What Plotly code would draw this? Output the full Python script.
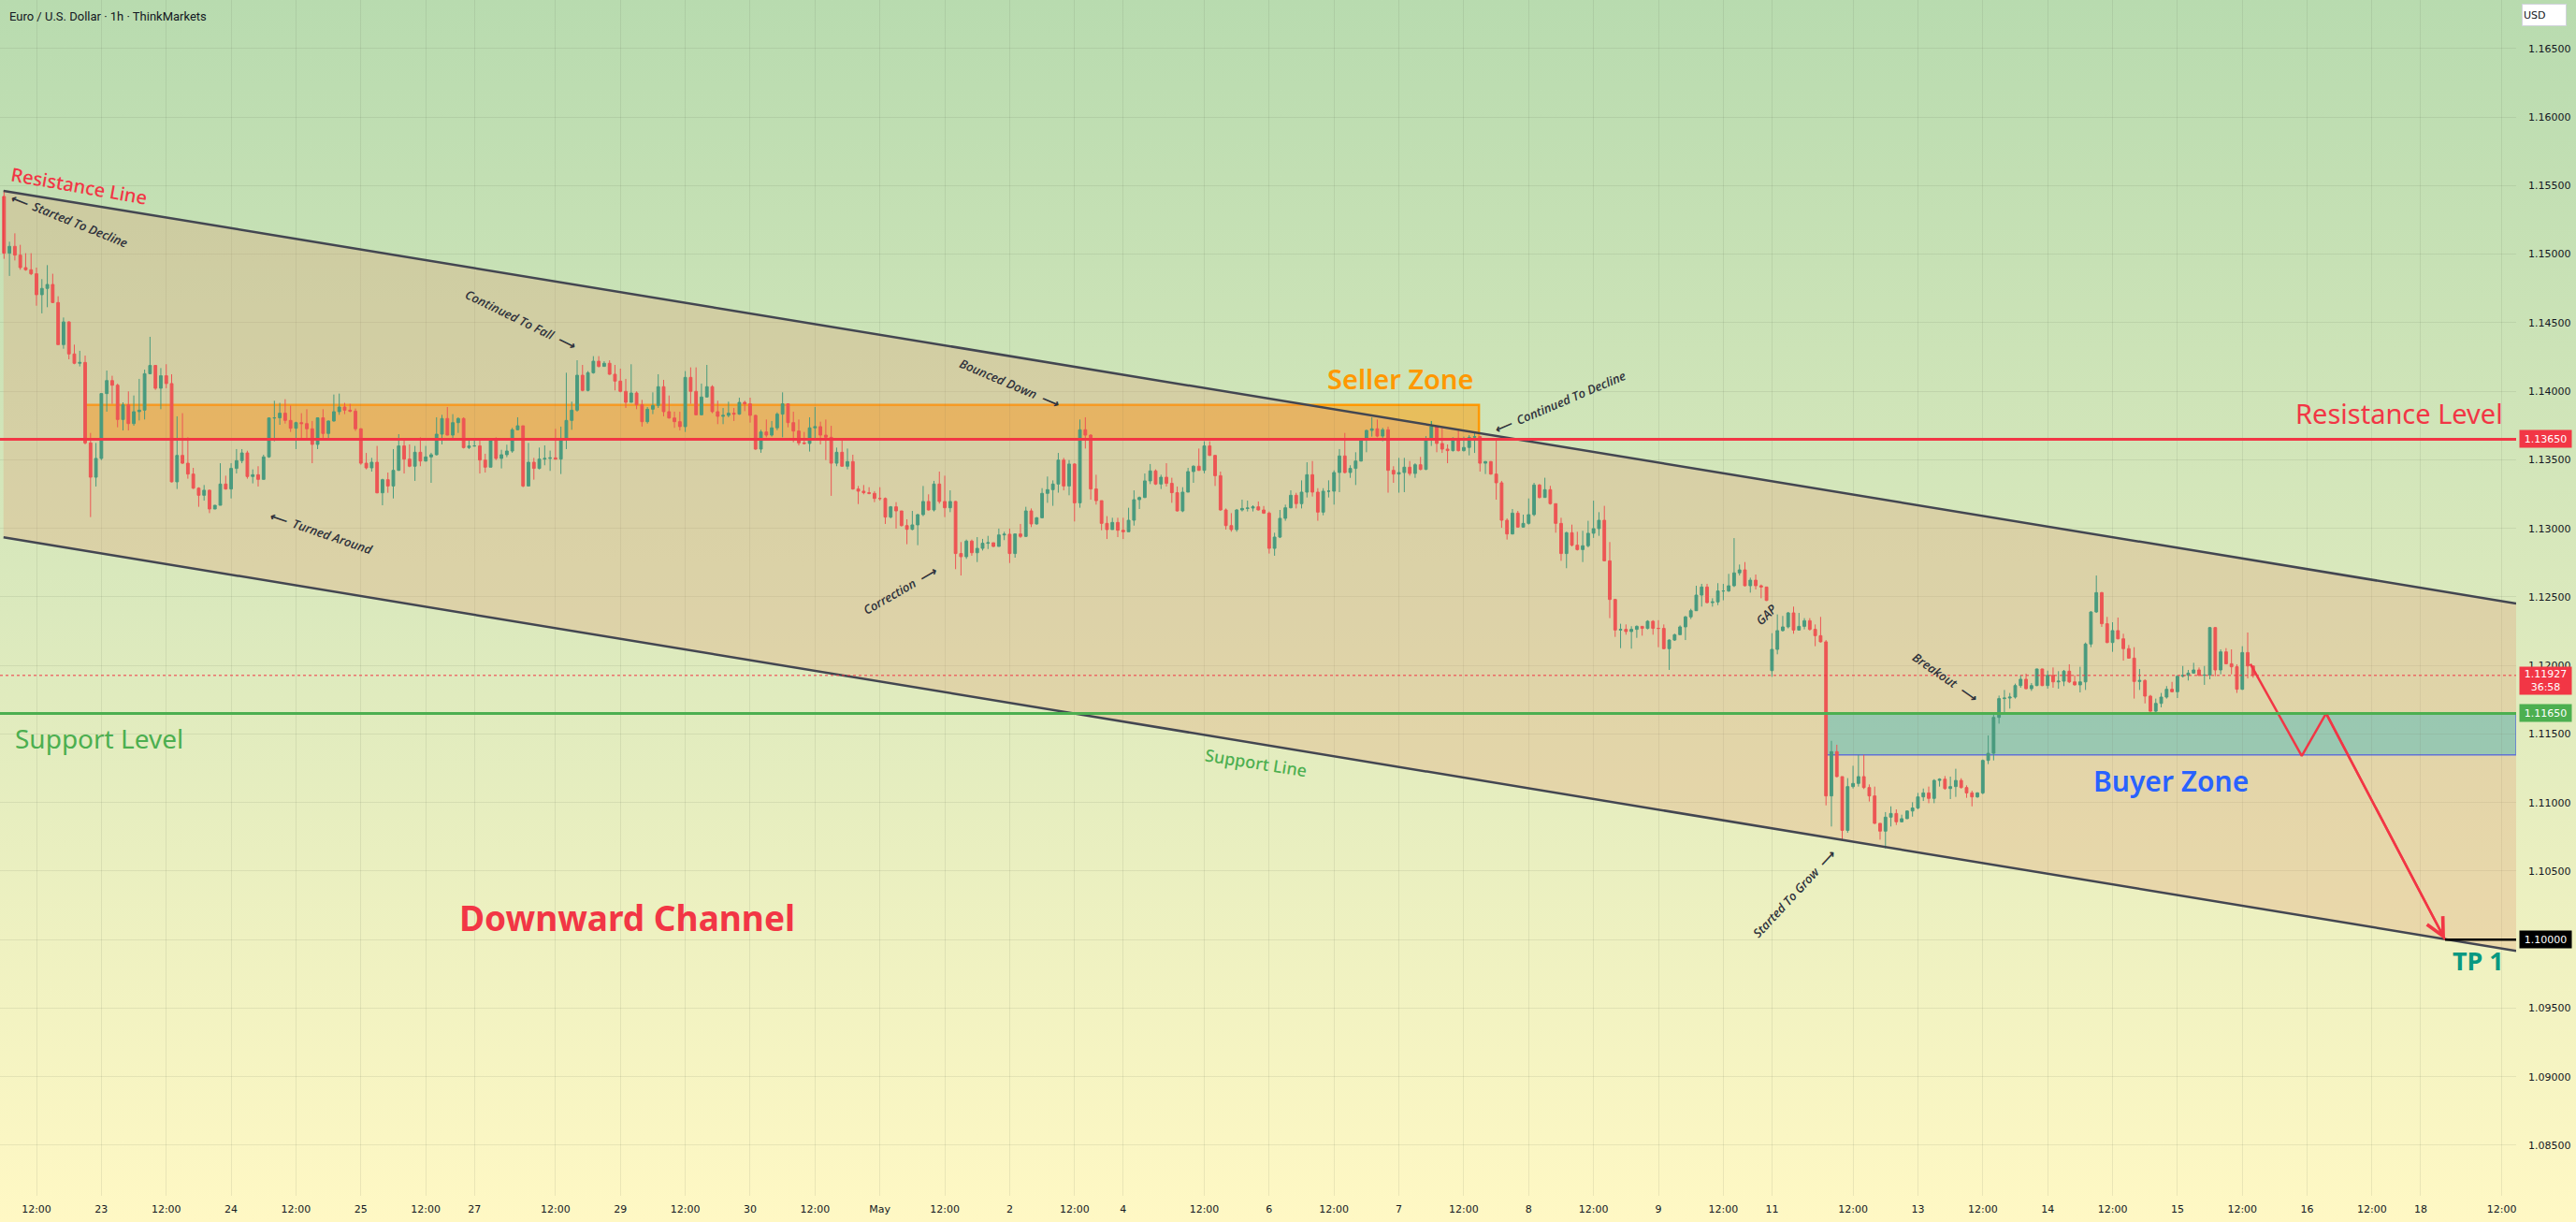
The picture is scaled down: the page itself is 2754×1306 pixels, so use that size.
import base64
import plotly.graph_objects as go

# EUR/USD 1h candles (ThinkMarkets), 22 Apr - 15 May
# bar numbers count hourly candles from 22 Apr 12:00, weekend hours are not counted
first_bar = -6
first_open = 1.15421
gap_opens = {321: 1.11962}  # Sunday 11 May open, after the weekend gap

closes = [
    1.15007, 1.15057, 1.14993, 1.14902, 1.14886, 1.14857, 1.14704, 1.14750, 1.14779, 1.14647, 1.14340, 1.14506,
    1.14272, 1.14204, 1.14210, 1.13623, 1.13373, 1.13510, 1.13983, 1.14078, 1.14044, 1.13794, 1.13901, 1.13764,
    1.13851, 1.13862, 1.14128, 1.14188, 1.14022, 1.14113, 1.14056, 1.13339, 1.13532, 1.13475, 1.13396, 1.13293,
    1.13241, 1.13278, 1.13141, 1.13168, 1.13323, 1.13287, 1.13437, 1.13494, 1.13550, 1.13378, 1.13391, 1.13357,
    1.13521, 1.13805, 1.13806, 1.13840, 1.13787, 1.13730, 1.13771, 1.13764, 1.13726, 1.13612, 1.13806, 1.13692,
    1.13783, 1.13851, 1.13885, 1.13862, 1.13855, 1.13726, 1.13475, 1.13441, 1.13482, 1.13259, 1.13355, 1.13309,
    1.13423, 1.13601, 1.13505, 1.13453, 1.13555, 1.13491, 1.13521, 1.13537, 1.13687, 1.13801, 1.13680, 1.13771,
    1.13801, 1.13589, 1.13601, 1.13601, 1.13498, 1.13446, 1.13642, 1.13510, 1.13537, 1.13564, 1.13719, 1.13748,
    1.13309, 1.13482, 1.13437, 1.13505, 1.13510, 1.13514, 1.13505, 1.13646, 1.13787, 1.13862, 1.14117, 1.14006,
    1.14135, 1.14219, 1.14181, 1.14204, 1.14124, 1.14074, 1.13999, 1.13919, 1.13987, 1.13901, 1.13778, 1.13869,
    1.13896, 1.14033, 1.13851, 1.13805, 1.13778, 1.13742, 1.14101, 1.13999, 1.13828, 1.13958, 1.14033, 1.13851,
    1.13817, 1.13824, 1.13840, 1.13833, 1.13919, 1.13908, 1.13824, 1.13578, 1.13703, 1.13680, 1.13733, 1.13833,
    1.13908, 1.13771, 1.13710, 1.13623, 1.13619, 1.13733, 1.13742, 1.13680, 1.13664, 1.13475, 1.13555, 1.13453,
    1.13487, 1.13287, 1.13271, 1.13260, 1.13255, 1.13218, 1.13218, 1.13082, 1.13157, 1.13127, 1.13020, 1.12993,
    1.13025, 1.13100, 1.13196, 1.13134, 1.13323, 1.13196, 1.13150, 1.13196, 1.12816, 1.12793, 1.12907, 1.12822,
    1.12854, 1.12891, 1.12895, 1.12868, 1.12952, 1.12957, 1.12816, 1.12959, 1.12941, 1.13127, 1.13032, 1.13077,
    1.13255, 1.13282, 1.13323, 1.13498, 1.13309, 1.13469, 1.13186, 1.13719, 1.13680, 1.13287, 1.13202, 1.13036,
    1.12991, 1.13043, 1.12986, 1.12975, 1.13059, 1.13209, 1.13225, 1.13346, 1.13419, 1.13323, 1.13373, 1.13328,
    1.13260, 1.13127, 1.13264, 1.13414, 1.13453, 1.13423, 1.13601, 1.13532, 1.13384, 1.13134, 1.13020, 1.12991,
    1.13134, 1.13145, 1.13148, 1.13157, 1.13134, 1.13111, 1.12854, 1.12936, 1.13073, 1.13150, 1.13241, 1.13180,
    1.13264, 1.13391, 1.13264, 1.13118, 1.13271, 1.13271, 1.13407, 1.13528, 1.13407, 1.13437, 1.13491, 1.13646,
    1.13714, 1.13726, 1.13673, 1.13719, 1.13423, 1.13396, 1.13407, 1.13446, 1.13400, 1.13464, 1.13430, 1.13651,
    1.13742, 1.13619, 1.13578, 1.13567, 1.13657, 1.13567, 1.13590, 1.13664, 1.13669, 1.13475, 1.13487, 1.13396,
    1.13332, 1.13059, 1.12959, 1.13111, 1.13009, 1.13036, 1.13100, 1.13316, 1.13225, 1.13282, 1.13180, 1.13036,
    1.12816, 1.12968, 1.12877, 1.12845, 1.12873, 1.12964, 1.12998, 1.13059, 1.12763, 1.12481, 1.12258, 1.12263,
    1.12247, 1.12263, 1.12285, 1.12270, 1.12322, 1.12270, 1.12270, 1.12122, 1.12185, 1.12224, 1.12281, 1.12354,
    1.12399, 1.12513, 1.12572, 1.12458, 1.12463, 1.12543, 1.12543, 1.12581, 1.12675, 1.12697, 1.12581, 1.12622,
    1.12581, 1.12572, 1.12474, 1.12117, 1.12254, 1.12281, 1.12383, 1.12258, 1.12285, 1.12326, 1.12263, 1.12217,
    1.12172, 1.11048, 1.11371, 1.11189, 1.10797, 1.11116, 1.11139, 1.11189, 1.11109, 1.11048, 1.10848, 1.10791,
    1.10893, 1.10920, 1.10859, 1.10882, 1.10938, 1.10960, 1.11041, 1.11070, 1.11030, 1.11161, 1.11170, 1.11102,
    1.11116, 1.11161, 1.11109, 1.11070, 1.11041, 1.11070, 1.11307, 1.11359, 1.11621, 1.11758, 1.11762, 1.11769,
    1.11853, 1.11899, 1.11830, 1.11853, 1.11974, 1.11853, 1.11928, 1.11880, 1.11885, 1.11958, 1.11880, 1.11858,
    1.11880, 1.12156, 1.12390, 1.12531, 1.12304, 1.12167, 1.12254, 1.12194, 1.12122, 1.12053, 1.11883, 1.11890,
    1.11776, 1.11666, 1.11723, 1.11769, 1.11826, 1.11808, 1.11921, 1.11928, 1.11944, 1.11967, 1.11928, 1.11930,
    1.12276, 1.11967, 1.12099, 1.12012, 1.11990, 1.11826, 1.12094, 1.11996, 1.11927,
]

highs = [
    1.15466, 1.15091, 1.15152, 1.15068, 1.15007, 1.15007, 1.14902, 1.14818, 1.14920, 1.14857, 1.14693, 1.14538,
    1.14510, 1.14340, 1.14295, 1.14260, 1.13696, 1.13623, 1.13985, 1.14151, 1.14113, 1.14056, 1.13919, 1.13999,
    1.13969, 1.14090, 1.14158, 1.14397, 1.14192, 1.14169, 1.14197, 1.14124, 1.13817, 1.13840, 1.13664, 1.13441,
    1.13300, 1.13316, 1.13282, 1.13170, 1.13475, 1.13384, 1.13475, 1.13578, 1.13578, 1.13566, 1.13430, 1.13453,
    1.13537, 1.13810, 1.13931, 1.13915, 1.13942, 1.13896, 1.13778, 1.13840, 1.13869, 1.13783, 1.13810, 1.13869,
    1.13787, 1.13976, 1.13983, 1.13915, 1.13908, 1.13874, 1.13730, 1.13550, 1.13514, 1.13601, 1.13362, 1.13407,
    1.13578, 1.13687, 1.13642, 1.13612, 1.13601, 1.13664, 1.13601, 1.13551, 1.13810, 1.13828, 1.13885, 1.13833,
    1.13810, 1.13810, 1.13646, 1.13651, 1.13646, 1.13544, 1.13646, 1.13664, 1.13573, 1.13610, 1.13733, 1.13810,
    1.13748, 1.13623, 1.13514, 1.13589, 1.13605, 1.13567, 1.13726, 1.13742, 1.14135, 1.13924, 1.14226, 1.14192,
    1.14147, 1.14256, 1.14256, 1.14219, 1.14226, 1.14192, 1.14165, 1.14090, 1.14197, 1.13999, 1.13937, 1.13885,
    1.13992, 1.14124, 1.14083, 1.13969, 1.13851, 1.13851, 1.14147, 1.14174, 1.14174, 1.14056, 1.14192, 1.14044,
    1.13931, 1.13878, 1.13924, 1.13878, 1.13953, 1.13931, 1.13953, 1.13828, 1.13719, 1.13794, 1.13783, 1.13846,
    1.13992, 1.13908, 1.13851, 1.13794, 1.13703, 1.13810, 1.13885, 1.13778, 1.13794, 1.13748, 1.13589, 1.13641,
    1.13582, 1.13537, 1.13309, 1.13316, 1.13300, 1.13271, 1.13300, 1.13225, 1.13163, 1.13191, 1.13123, 1.13066,
    1.13127, 1.13105, 1.13309, 1.13248, 1.13346, 1.13414, 1.13384, 1.13277, 1.13200, 1.12900, 1.12918, 1.12918,
    1.12936, 1.12923, 1.12945, 1.12895, 1.12998, 1.12975, 1.12998, 1.12960, 1.13032, 1.13157, 1.13145, 1.13082,
    1.13293, 1.13378, 1.13350, 1.13550, 1.13514, 1.13498, 1.13475, 1.13794, 1.13810, 1.13687, 1.13391, 1.13202,
    1.13089, 1.13077, 1.13077, 1.13077, 1.13150, 1.13277, 1.13232, 1.13400, 1.13469, 1.13430, 1.13391, 1.13475,
    1.13369, 1.13305, 1.13300, 1.13441, 1.13460, 1.13582, 1.13635, 1.13635, 1.13535, 1.13414, 1.13145, 1.13111,
    1.13141, 1.13209, 1.13202, 1.13168, 1.13196, 1.13163, 1.13123, 1.12968, 1.13134, 1.13173, 1.13277, 1.13259,
    1.13350, 1.13482, 1.13491, 1.13293, 1.13293, 1.13350, 1.13423, 1.13578, 1.13696, 1.13460, 1.13555, 1.13651,
    1.13719, 1.13810, 1.13794, 1.13733, 1.13742, 1.13453, 1.13514, 1.13514, 1.13491, 1.13475, 1.13521, 1.13673,
    1.13783, 1.13742, 1.13733, 1.13612, 1.13664, 1.13726, 1.13669, 1.13680, 1.13703, 1.13673, 1.13491, 1.13491,
    1.13657, 1.13346, 1.13073, 1.13141, 1.13127, 1.13100, 1.13218, 1.13332, 1.13323, 1.13369, 1.13310, 1.13180,
    1.13077, 1.12975, 1.13027, 1.12975, 1.12982, 1.13055, 1.13202, 1.13118, 1.13164, 1.12900, 1.12486, 1.12304,
    1.12299, 1.12286, 1.12292, 1.12285, 1.12330, 1.12330, 1.12330, 1.12299, 1.12190, 1.12231, 1.12292, 1.12361,
    1.12413, 1.12581, 1.12595, 1.12595, 1.12490, 1.12600, 1.12595, 1.12668, 1.12929, 1.12736, 1.12754, 1.12640,
    1.12663, 1.12590, 1.12572, 1.12235, 1.12372, 1.12361, 1.12390, 1.12429, 1.12383, 1.12345, 1.12345, 1.12299,
    1.12354, 1.12185, 1.11450, 1.11421, 1.11189, 1.11178, 1.11268, 1.11348, 1.11348, 1.11132, 1.11116, 1.10848,
    1.10930, 1.10972, 1.10950, 1.10911, 1.10943, 1.11002, 1.11070, 1.11102, 1.11116, 1.11170, 1.11177, 1.11193,
    1.11189, 1.11246, 1.11177, 1.11125, 1.11086, 1.11075, 1.11314, 1.11489, 1.11648, 1.11780, 1.11821, 1.11799,
    1.11867, 1.11928, 1.11940, 1.11871, 1.11976, 1.11976, 1.11962, 1.11985, 1.11958, 1.11967, 1.12008, 1.11928,
    1.11990, 1.12167, 1.12395, 1.12656, 1.12536, 1.12354, 1.12315, 1.12349, 1.12231, 1.12149, 1.12133, 1.11974,
    1.11899, 1.11785, 1.11758, 1.11799, 1.11849, 1.11880, 1.11928, 1.11996, 1.11967, 1.12019, 1.11985, 1.11996,
    1.12281, 1.12281, 1.12117, 1.12126, 1.12117, 1.12008, 1.12140, 1.12240, 1.12000,
]

lows = [
    1.14966, 1.14841, 1.14954, 1.14886, 1.14879, 1.14847, 1.14624, 1.14568, 1.14613, 1.14643, 1.14338, 1.14310,
    1.14233, 1.14197, 1.14181, 1.13612, 1.13082, 1.13305, 1.13498, 1.13851, 1.13908, 1.13737, 1.13714, 1.13714,
    1.13748, 1.13787, 1.13794, 1.14124, 1.14010, 1.13869, 1.14022, 1.13335, 1.13287, 1.13469, 1.13362, 1.13287,
    1.13157, 1.13202, 1.13111, 1.13140, 1.13209, 1.13282, 1.13218, 1.13400, 1.13475, 1.13362, 1.13328, 1.13305,
    1.13357, 1.13514, 1.13635, 1.13755, 1.13764, 1.13703, 1.13578, 1.13646, 1.13646, 1.13475, 1.13578, 1.13650,
    1.13646, 1.13778, 1.13828, 1.13833, 1.13846, 1.13710, 1.13464, 1.13430, 1.13414, 1.13255, 1.13168, 1.13259,
    1.13218, 1.13419, 1.13400, 1.13446, 1.13346, 1.13453, 1.13487, 1.13332, 1.13532, 1.13612, 1.13678, 1.13657,
    1.13696, 1.13582, 1.13578, 1.13596, 1.13400, 1.13407, 1.13446, 1.13498, 1.13437, 1.13519, 1.13551, 1.13715,
    1.13300, 1.13309, 1.13355, 1.13430, 1.13460, 1.13419, 1.13501, 1.13396, 1.13578, 1.13719, 1.13851, 1.13999,
    1.13999, 1.14128, 1.14174, 1.14181, 1.14120, 1.14006, 1.13992, 1.13878, 1.13919, 1.13869, 1.13742, 1.13764,
    1.13833, 1.13878, 1.13817, 1.13800, 1.13733, 1.13714, 1.13703, 1.13908, 1.13824, 1.13824, 1.13954, 1.13840,
    1.13760, 1.13760, 1.13810, 1.13783, 1.13828, 1.13855, 1.13771, 1.13573, 1.13551, 1.13664, 1.13669, 1.13715,
    1.13664, 1.13737, 1.13628, 1.13605, 1.13612, 1.13560, 1.13651, 1.13612, 1.13498, 1.13237, 1.13453, 1.13448,
    1.13430, 1.13282, 1.13177, 1.13248, 1.13248, 1.13191, 1.13202, 1.13032, 1.13073, 1.12998, 1.13013, 1.12884,
    1.12986, 1.12877, 1.13089, 1.13130, 1.13123, 1.13180, 1.13082, 1.13118, 1.12702, 1.12656, 1.12777, 1.12800,
    1.12754, 1.12838, 1.12849, 1.12863, 1.12868, 1.12914, 1.12747, 1.12786, 1.12930, 1.12936, 1.13009, 1.13027,
    1.13073, 1.13186, 1.13164, 1.13260, 1.13277, 1.13241, 1.13050, 1.13150, 1.13582, 1.13209, 1.13173, 1.12986,
    1.12922, 1.12991, 1.12936, 1.12922, 1.12975, 1.13020, 1.13141, 1.13221, 1.13323, 1.13316, 1.13287, 1.13305,
    1.13186, 1.13123, 1.13118, 1.13264, 1.13332, 1.13419, 1.13401, 1.13528, 1.13309, 1.13127, 1.12991, 1.12975,
    1.12975, 1.13123, 1.13123, 1.13123, 1.13130, 1.13105, 1.12816, 1.12800, 1.12929, 1.13055, 1.13145, 1.13145,
    1.13145, 1.13225, 1.13232, 1.13055, 1.13095, 1.13225, 1.13173, 1.13264, 1.13400, 1.13368, 1.13316, 1.13487,
    1.13555, 1.13669, 1.13664, 1.13635, 1.13260, 1.13332, 1.13260, 1.13264, 1.13384, 1.13368, 1.13423, 1.13425,
    1.13601, 1.13555, 1.13550, 1.13475, 1.13560, 1.13560, 1.13560, 1.13532, 1.13550, 1.13414, 1.13396, 1.13391,
    1.13209, 1.13004, 1.12918, 1.12955, 1.13005, 1.13005, 1.13027, 1.13089, 1.13218, 1.13225, 1.13173, 1.12968,
    1.12763, 1.12709, 1.12868, 1.12838, 1.12754, 1.12861, 1.12930, 1.12945, 1.12759, 1.12345, 1.12208, 1.12126,
    1.12224, 1.12122, 1.12201, 1.12217, 1.12263, 1.12224, 1.12133, 1.12117, 1.11967, 1.12179, 1.12224, 1.12185,
    1.12338, 1.12399, 1.12429, 1.12452, 1.12429, 1.12440, 1.12475, 1.12536, 1.12572, 1.12656, 1.12577, 1.12531,
    1.12554, 1.12490, 1.12470, 1.11917, 1.12081, 1.12247, 1.12270, 1.12231, 1.12254, 1.12263, 1.12254, 1.12140,
    1.12167, 1.10979, 1.10825, 1.11184, 1.10729, 1.10779, 1.11102, 1.11116, 1.11098, 1.11007, 1.10843, 1.10729,
    1.10666, 1.10825, 1.10836, 1.10855, 1.10880, 1.10897, 1.10950, 1.11011, 1.10995, 1.10995, 1.11116, 1.11093,
    1.11025, 1.11041, 1.11102, 1.11034, 1.10972, 1.11034, 1.11060, 1.11280, 1.11307, 1.11575, 1.11648, 1.11685,
    1.11758, 1.11837, 1.11826, 1.11814, 1.11849, 1.11849, 1.11830, 1.11837, 1.11830, 1.11849, 1.11871, 1.11853,
    1.11803, 1.11821, 1.12133, 1.12383, 1.12281, 1.12162, 1.12099, 1.12190, 1.12035, 1.12049, 1.11758, 1.11821,
    1.11723, 1.11662, 1.11648, 1.11694, 1.11758, 1.11803, 1.11762, 1.11912, 1.11890, 1.11940, 1.11921, 1.11858,
    1.11899, 1.11921, 1.11935, 1.12008, 1.11935, 1.11799, 1.11821, 1.11905, 1.11910,
]

# time axis labels and the bar numbers they sit on
time_tick_bars = [0, 12, 24, 36, 48, 60, 72, 81, 96, 108, 120, 132, 144, 156, 168, 180, 192, 201, 216, 228,
                  240, 252, 264, 276, 288, 300, 312, 321, 336, 348, 360, 372, 384, 396, 408, 420, 432, 441, 456]
time_tick_labels = ["12:00", "23", "12:00", "24", "12:00", "25", "12:00", "27", "12:00", "29", "12:00", "30",
                    "12:00", "May", "12:00", "2", "12:00", "4", "12:00", "6", "12:00", "7", "12:00", "8",
                    "12:00", "9", "12:00", "11", "12:00", "13", "12:00", "14", "12:00", "15", "12:00", "16",
                    "12:00", "18", "12:00"]
price_ticks = [1.085, 1.090, 1.095, 1.100, 1.105, 1.110, 1.115, 1.120, 1.125, 1.130, 1.135, 1.140, 1.145,
               1.150, 1.155, 1.160, 1.165]

# drawings
resistance_level = 1.1365
support_level = 1.1165
current_price = 1.11927
target_price = 1.1000
channel_bars = [-6.1, 458.65]
channel_upper = [1.15462, 1.12452]
channel_lower = [1.12935, 1.09918]
seller_zone = dict(x0=9.1, x1=266.8, y0=1.1365, y1=1.1390)
buyer_zone = dict(x0=331.1, x1=458.65, y0=1.11348, y1=1.1165)
projection_bars = [409.5, 419.0, 423.5, 445.5]
projection_prices = [1.1201, 1.1134, 1.1165, 1.1000]

GREEN = "#089981"
RED = "#f23645"
TEXT = "#131722"
NOTE = "#2f323c"
X_RANGE = [-6.75, 458.65]
Y_RANGE = [1.08131, 1.16854]

bars = list(range(first_bar, first_bar + len(closes)))
opens = [first_open] + closes[:-1]
for b, o in gap_opens.items():
    opens[b - first_bar] = o

fig = go.Figure()

# channel body
fig.add_trace(go.Scatter(
    x=[channel_bars[0], channel_bars[1], channel_bars[1], channel_bars[0]],
    y=[channel_upper[0], channel_upper[1], channel_lower[1], channel_lower[0]],
    fill="toself", fillcolor="rgba(226,160,118,0.30)", line=dict(width=0),
    mode="lines", hoverinfo="skip", showlegend=False,
))

fig.add_trace(go.Candlestick(
    x=bars, open=opens, high=highs, low=lows, close=closes,
    increasing=dict(line=dict(color=GREEN, width=1), fillcolor=GREEN),
    decreasing=dict(line=dict(color=RED, width=1), fillcolor=RED),
    whiskerwidth=0, showlegend=False, hoverinfo="skip",
))

for edge in (channel_upper, channel_lower):
    fig.add_trace(go.Scatter(x=channel_bars, y=edge, mode="lines",
                             line=dict(color="#434651", width=2.5),
                             hoverinfo="skip", showlegend=False))

# projected path
fig.add_trace(go.Scatter(x=projection_bars, y=projection_prices, mode="lines",
                         line=dict(color=RED, width=2.5), hoverinfo="skip", showlegend=False))
fig.add_annotation(x=projection_bars[-1], y=projection_prices[-1], ax=projection_bars[-2],
                   ay=projection_prices[-2], xref="x", yref="y", axref="x", ayref="y",
                   showarrow=True, arrowhead=5, arrowsize=1.5, arrowwidth=2.5, arrowcolor=RED,
                   standoff=0, text="")

# zones
fig.add_shape(type="rect", xref="x", yref="y", layer="below", **seller_zone,
              fillcolor="rgba(255,152,0,0.50)", line=dict(color="#ff9800", width=2.5))
fig.add_shape(type="rect", xref="x", yref="y", layer="below", **buyer_zone,
              fillcolor="rgba(20,200,215,0.50)", line=dict(color="#2962ff", width=1.5))

# horizontal levels
fig.add_shape(type="line", xref="paper", x0=0, x1=1, yref="y", y0=resistance_level, y1=resistance_level,
              line=dict(color=RED, width=3))
fig.add_shape(type="line", xref="paper", x0=0, x1=1, yref="y", y0=support_level, y1=support_level,
              line=dict(color="#4caf50", width=3))
fig.add_shape(type="line", xref="paper", x0=0, x1=1, yref="y", y0=current_price, y1=current_price,
              line=dict(color=RED, width=1, dash="dot"))
fig.add_shape(type="line", xref="x", x0=projection_bars[-1], x1=X_RANGE[1], yref="y",
              y0=target_price, y1=target_price, line=dict(color="#000000", width=2.5))


def label(x, y, text, color, size, weight="normal", angle=0, anchor="center", style="normal",
          family="Noto Sans"):
    fig.add_annotation(x=x, y=y, xref="x", yref="y", text=text, showarrow=False, textangle=angle,
                       xanchor=anchor, yanchor="middle",
                       font=dict(family=family, size=size, color=color, weight=weight, style=style))


label(456.6, 1.13838, "Resistance Level", RED, 29, anchor="right")
label(-4.4, 1.11469, "Support Level", "#4caf50", 28, anchor="left")
label(252.2, 1.14090, "Seller Zone", "#ff9800", 29, weight=600)
label(394.8, 1.11155, "Buyer Zone", "#2962ff", 30, weight=600)
label(109.2, 1.10165, "Downward Channel", RED, 37, weight="bold")
label(451.7, 1.09851, "TP 1", GREEN, 27, weight="bold")
label(225.6, 1.11291, "Support Line", "#4caf50", 18, weight=500, angle=9)
label(7.8, 1.15500, "Resistance Line", RED, 20, weight=500, angle=10)

notes = [
    (6.0, 1.15250, "⟵  Started To Decline", 22),
    (89.6, 1.14520, "Continued To Fall  ⟶", 26),
    (52.6, 1.12970, "⟵  Turned Around", 19),
    (180.1, 1.14056, "Bounced Down  ⟶", 23),
    (159.7, 1.12547, "Correction  ⟶", -30),
    (281.8, 1.13919, "⟵  Continued To Decline", -23),
    (319.9, 1.12370, "GAP", -45),
    (353.1, 1.11912, "Breakout  ⟶", 35),
    (325.1, 1.10336, "Started To Grow  ⟶", -47),
]
for x, y, text, angle in notes:
    label(x, y, text, NOTE, 13, weight=600, angle=angle, style="italic", family="Open Sans")


def tag(y, text, color, height=16, shift=0):
    fig.add_annotation(xref="paper", x=1, xanchor="left", xshift=3, yref="y", y=y, yanchor="middle",
                       yshift=shift, text=text, showarrow=False, bgcolor=color, width=53,
                       height=height, borderpad=1,
                       font=dict(family="DejaVu Sans", size=11, color="white"))


tag(resistance_level, "1.13650", RED)
tag(support_level, "1.11650", "#4caf50")
tag(current_price, "1.11927<br>36:58", RED, height=27, shift=-6)
tag(target_price, "1.10000", "#000000")

fig.add_annotation(xref="paper", yref="paper", x=0, y=1, xshift=8, yshift=-17, xanchor="left",
                   yanchor="middle", text="Euro / U.S. Dollar · 1h · ThinkMarkets", showarrow=False,
                   font=dict(family="Roboto", size=13, color=TEXT))
fig.add_annotation(xref="paper", yref="paper", x=1, y=1, xshift=6, yshift=-4, xanchor="left",
                   yanchor="top", text="USD", showarrow=False, bgcolor="white", bordercolor="#d1d4dc",
                   borderwidth=1, width=44, height=20, align="left",
                   font=dict(family="DejaVu Sans", size=11, color=TEXT))

gradient = ("<svg xmlns='http://www.w3.org/2000/svg' width='100' height='100' viewBox='0 0 100 100' "
            "preserveAspectRatio='none'><defs><linearGradient id='g' x1='0' y1='0' x2='0' y2='1'>"
            "<stop offset='0' stop-color='#b8dbaf'/><stop offset='0.5' stop-color='#dbe9bd'/>"
            "<stop offset='1' stop-color='#fff8c4'/></linearGradient></defs>"
            "<rect width='100' height='100' fill='url(#g)'/></svg>")
fig.add_layout_image(source="data:image/svg+xml;base64," + base64.b64encode(gradient.encode()).decode(),
                     xref="paper", yref="paper", x=0, y=1, sizex=2754 / 2690, sizey=1306 / 1278,
                     xanchor="left", yanchor="top", sizing="stretch", layer="below")

grid = "rgba(70,80,60,0.10)"
fig.update_layout(
    width=2754, height=1306,
    margin=dict(l=0, r=64, t=0, b=28),
    paper_bgcolor="#dbe9bd", plot_bgcolor="rgba(0,0,0,0)",
    showlegend=False,
    xaxis=dict(range=X_RANGE, tickvals=time_tick_bars, ticktext=time_tick_labels, showgrid=True,
               gridcolor=grid, zeroline=False, showline=False, ticks="", rangeslider=dict(visible=False),
               tickfont=dict(family="DejaVu Sans", size=11, color=TEXT), ticklabelstandoff=6),
    yaxis=dict(range=Y_RANGE, side="right", tickvals=price_ticks, tickformat=".5f", showgrid=True,
               gridcolor=grid, zeroline=False, showline=False, ticks="", ticklabelstandoff=12,
               tickfont=dict(family="DejaVu Sans", size=11, color=TEXT)),
)

# the page is photographed at exactly the figure size, so drop the default body margin
fig.write_html("out.html", config={"displayModeBar": False},
               post_script="document.body.style.margin='0';document.body.style.overflow='hidden';")
